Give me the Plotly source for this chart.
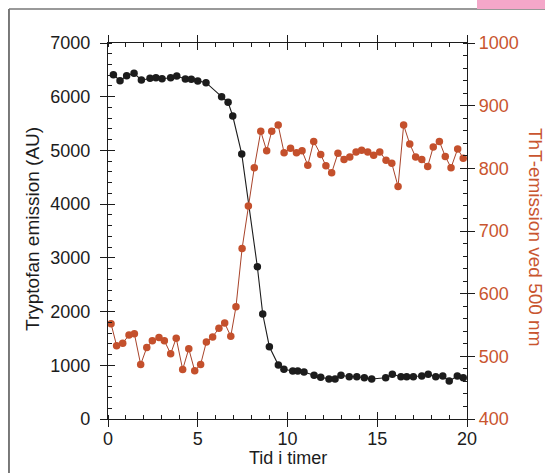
import plotly.graph_objects as go

# Tryptophan fluorescence (left axis, AU) over time in hours
trp_time = [0.30, 0.67, 1.04, 1.45, 1.86, 2.34, 2.67, 3.01, 3.49, 3.83, 4.31, 4.64,
            5.00, 5.46, 6.33, 6.69, 6.95, 7.45, 8.32, 8.62, 8.99, 9.49, 9.80, 10.29,
            10.57, 10.92, 11.48, 11.85, 12.31, 12.65, 12.98, 13.44, 13.86, 14.28, 14.69,
            15.47, 15.84, 16.32, 16.64, 17.01, 17.48, 17.84, 18.26, 18.65, 19.01, 19.46, 19.79]
trp_emission = [6410, 6298, 6391, 6436, 6311, 6343, 6354, 6335, 6354, 6386, 6330, 6324,
                6293, 6261, 6000, 5896, 5641, 4934, 2835, 1955, 1346, 1005, 925, 894,
                894, 875, 814, 776, 745, 745, 814, 788, 788, 769, 745,
                769, 832, 788, 788, 788, 800, 832, 788, 800, 707, 800, 769]

# ThT fluorescence at 500 nm (right axis)
tht_time = [0.17, 0.48, 0.82, 1.17, 1.47, 1.82, 2.16, 2.47, 2.84, 3.14, 3.49, 3.80,
            4.16, 4.50, 4.83, 5.16, 5.48, 5.83, 6.18, 6.50, 6.84, 7.13, 7.47, 7.82,
            8.15, 8.51, 8.84, 9.12, 9.48, 9.81, 10.17, 10.50, 10.81, 11.13, 11.46, 11.85,
            12.14, 12.46, 12.81, 13.15, 13.47, 13.82, 14.13, 14.47, 14.80, 15.14, 15.49,
            15.81, 16.16, 16.47, 16.81, 17.14, 17.48, 17.81, 18.12, 18.46, 18.79, 19.11,
            19.48, 19.79]
tht_emission = [552, 517, 521, 534, 536, 487, 514, 525, 530, 525, 504, 529,
                479, 512, 477, 487, 523, 531, 545, 553, 532, 579, 672, 740,
                801, 859, 828, 859, 869, 825, 832, 825, 828, 805, 843, 822,
                804, 793, 824, 814, 818, 826, 829, 826, 821, 826, 813,
                808, 771, 869, 839, 818, 814, 803, 834, 843, 819, 801,
                831, 816]

x_ticks = [0, 5, 10, 15, 20]
left_ticks = [0, 1000, 2000, 3000, 4000, 5000, 6000, 7000]
right_ticks = [400, 500, 600, 700, 800, 900, 1000]

BLACK = "#1c1c1c"
RUST = "#c4502c"
RUST_TEXT = "#c9552f"
FONT = "Liberation Sans, Arial, Helvetica, sans-serif"

fig = go.Figure()

fig.add_trace(go.Scatter(
    x=trp_time, y=trp_emission, mode="lines+markers",
    line=dict(color=BLACK, width=1.1),
    marker=dict(color=BLACK, size=7.5),
    showlegend=False, cliponaxis=False,
))
fig.add_trace(go.Scatter(
    x=tht_time, y=tht_emission, mode="lines+markers", yaxis="y2",
    line=dict(color="#a8432a", width=1),
    marker=dict(color=RUST, size=7.5),
    showlegend=False, cliponaxis=False,
))
# placeholder traces so the inner-tick overlay axes get drawn
fig.add_trace(go.Scatter(x=[10], y=[3500], xaxis="x2", yaxis="y3",
                         mode="markers", marker=dict(opacity=0), showlegend=False,
                         hoverinfo="skip"))
fig.add_trace(go.Scatter(x=[10], y=[700], xaxis="x2", yaxis="y4",
                         mode="markers", marker=dict(opacity=0), showlegend=False,
                         hoverinfo="skip"))

tickfont = dict(family=FONT, size=18, color=BLACK)

fig.update_layout(
    width=545, height=473,
    margin=dict(l=108, r=78, t=43, b=54),
    paper_bgcolor="white", plot_bgcolor="white",
    font=dict(family=FONT, size=18, color=BLACK),
    xaxis=dict(
        range=[0, 20], tickvals=x_ticks, ticks="outside", ticklen=7, tickwidth=1.2,
        tickcolor=BLACK, showline=True, linecolor=BLACK, linewidth=1.2,
        mirror="ticks", showgrid=False, zeroline=False, tickfont=tickfont,
        ticklabelstandoff=-4,
        minor=dict(dtick=1, ticks="inside", ticklen=4, tickwidth=1, tickcolor=BLACK),
    ),
    xaxis2=dict(
        range=[0, 20], overlaying="x", anchor="y", tickvals=x_ticks, ticks="inside",
        ticklen=7, tickwidth=1.2, tickcolor=BLACK, showline=False, mirror="ticks",
        showticklabels=False, showgrid=False, zeroline=False,
    ),
    yaxis=dict(
        range=[0, 7000], tickvals=left_ticks, ticks="outside", ticklen=7, tickwidth=1.2,
        tickcolor=BLACK, showline=True, linecolor=BLACK, linewidth=1.2,
        showgrid=False, zeroline=False, tickfont=tickfont, ticklabelstandoff=6,
        minor=dict(dtick=200, ticks="inside", ticklen=4, tickwidth=1, tickcolor=BLACK),
    ),
    yaxis3=dict(
        range=[0, 7000], overlaying="y", anchor="x", side="left", tickvals=left_ticks,
        ticks="inside", ticklen=7, tickwidth=1.2, tickcolor=BLACK, showline=False,
        showticklabels=False, showgrid=False, zeroline=False,
    ),
    yaxis2=dict(
        range=[400, 1000], overlaying="y", side="right", anchor="x",
        tickvals=right_ticks, ticks="outside", ticklen=7, tickwidth=1.2, tickcolor=BLACK,
        showline=True, linecolor=BLACK, linewidth=1.2, showgrid=False, zeroline=False,
        tickfont=dict(family=FONT, size=18, color=RUST_TEXT), ticklabelstandoff=0,
        minor=dict(dtick=20, ticks="inside", ticklen=4, tickwidth=1, tickcolor=BLACK),
    ),
    yaxis4=dict(
        range=[400, 1000], overlaying="y", side="right", anchor="x",
        tickvals=right_ticks, ticks="inside", ticklen=7, tickwidth=1.2, tickcolor=BLACK,
        showline=False, showticklabels=False, showgrid=False, zeroline=False,
    ),
    annotations=[
        dict(text="Tryptofan emission (AU)", xref="paper", yref="paper",
             x=-0.211, y=0.506, xanchor="center", yanchor="middle", textangle=-90,
             showarrow=False, font=dict(family=FONT, size=19, color=BLACK)),
        dict(text="ThT-emission ved 500 nm", xref="paper", yref="paper",
             x=1.189, y=0.482, xanchor="center", yanchor="middle", textangle=90,
             showarrow=False, font=dict(family=FONT, size=19, color=RUST_TEXT)),
        dict(text="Tid i timer", xref="paper", yref="paper",
             x=0.5, y=-0.104, showarrow=False, xanchor="center", yanchor="middle",
             font=dict(family=FONT, size=18, color=BLACK)),
    ],
    shapes=[
        # page frame: left rule and grey top rule
        dict(type="line", xref="paper", yref="paper", x0=-0.2758, x1=-0.2758,
             y0=1.0904, y1=-0.16, line=dict(color="#333333", width=1.3)),
        dict(type="line", xref="paper", yref="paper", x0=-0.2758, x1=1.23,
             y0=1.0904, y1=1.0904, line=dict(color="#777777", width=1.5)),
        # pink tab in the corner
        dict(type="rect", xref="paper", yref="paper", x0=1.0279, x1=1.23,
             y0=1.0904, y1=1.16, fillcolor="#f4a7c9", line=dict(width=0)),
    ],
)

fig.write_html("out.html")
